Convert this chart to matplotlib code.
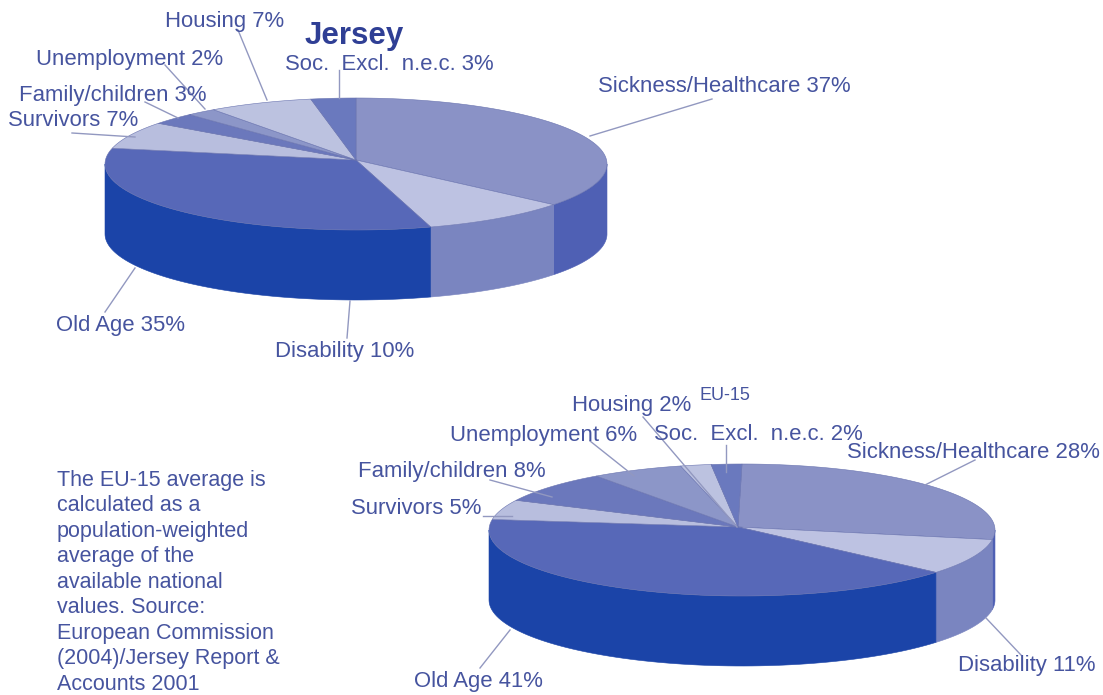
"""
Jersey vs EU-15 social spending, two fake-3D pies
"""
import numpy as np
import matplotlib
matplotlib.use("Agg")
import matplotlib.pyplot as plt
from matplotlib.patches import Polygon

plt.rcParams["font.family"] = ["Liberation Sans", "DejaVu Sans"]

categories = ["Sickness/Healthcare", "Disability", "Old Age", "Survivors",
              "Family/children", "Unemployment", "Housing", "Soc.  Excl.  n.e.c."]
jersey_values = [37, 10, 35, 7, 3, 2, 7, 3]
eu15_values = [28, 11, 41, 5, 8, 6, 2, 2]
# slice sizes as drawn in the picture, the EU-15 pie does not quite follow its labels
eu15_drawn = [28, 9, 42.5, 5, 8, 6, 2, 2]

note_text = ("The EU-15 average is\ncalculated as a\npopulation-weighted\naverage of the\n"
             "available national\nvalues. Source:\nEuropean Commission\n(2004)/Jersey Report &\n"
             "Accounts 2001")

TOP_COLORS = ["#8a92c6", "#bdc2e2", "#5768b8", "#b8bede", "#6b78bc", "#8c96c8", "#bcc2e0", "#6a79be"]
WALL_COLORS = ["#4f60b4", "#7a85c0", "#1b44a8", "#1b44a8", "#1b44a8", "#1b44a8", "#1b44a8", "#1b44a8"]
TEXT_COLOR = "#46549f"
LINE_COLOR = "#9298c0"

# label anchor (x, y, ha) and leader line per slice, pixels
JERSEY_LABELS = [(598, 86, "left"), (275, 351, "left"), (56, 325, "left"), (8, 121, "left"),
                 (19, 95, "left"), (36, 59, "left"), (165, 21, "left"), (285, 65, "left")]
JERSEY_LEADERS = [((590, 136), (712, 99)), ((347, 338), (350, 301)), ((105, 312), (135, 268)),
                  ((72, 133), (135, 137)), ((145, 102), (178, 118)), ((165, 65), (205, 109)),
                  ((238, 30), (267, 100)), ((339, 70), (339, 98))]
EU_LABELS = [(847, 452, "left"), (958, 665, "left"), (414, 681, "left"), (351, 509, "left"),
             (358, 472, "left"), (450, 435, "left"), (572, 406, "left"), (654, 435, "left")]
EU_LEADERS = [((975, 460), (925, 485)), ((986, 618), (1021, 655)), ((480, 668), (510, 630)),
              ((483, 516), (512, 516)), ((490, 480), (552, 497)), ((590, 441), (634, 476)),
              ((643, 417), (737, 527)), ((726, 445), (726, 472))]


def draw_pie(ax, values, drawn, apex, center, rx, ry, depth, labels, leaders):
    edges = np.cumsum([0] + list(drawn)) / sum(drawn) * 2 * np.pi  # clockwise from 12 o'clock

    # walls first, only the part facing front
    for i in range(len(values)):
        lo2, hi2 = max(edges[i], np.pi / 2), min(edges[i + 1], 3 * np.pi / 2)
        if hi2 <= lo2:
            continue
        t = np.linspace(lo2, hi2, 80)
        x = center[0] + rx * np.sin(t)
        y = center[1] - ry * np.cos(t)
        pts = np.vstack([np.column_stack([x, y]), np.column_stack([x, y + depth])[::-1]])
        ax.add_patch(Polygon(pts, closed=True, fc=WALL_COLORS[i], ec=WALL_COLORS[i], lw=0.4, zorder=2))

    for i in range(len(values)):
        t = np.linspace(edges[i], edges[i + 1], 80)
        x = center[0] + rx * np.sin(t)
        y = center[1] - ry * np.cos(t)
        pts = np.vstack([[apex], np.column_stack([x, y])])
        ax.add_patch(Polygon(pts, closed=True, fc=TOP_COLORS[i], ec="#6a74b0", lw=0.4, zorder=3))

    for (a, b) in leaders:
        ax.plot([a[0], b[0]], [a[1], b[1]], color=LINE_COLOR, lw=1.0, zorder=4)

    for cat, val, (lx, ly, ha) in zip(categories, values, labels):
        ax.text(lx, ly, f"{cat} {val}%", fontsize=15.9, color=TEXT_COLOR, ha=ha, va="center", zorder=5)


fig = plt.figure(figsize=(11.03, 6.95), dpi=100)
ax = fig.add_axes([0, 0, 1, 1])
ax.set_xlim(0, 1103)
ax.set_ylim(695, 0)
ax.axis("off")

draw_pie(ax, jersey_values, jersey_values, (356, 160), (356, 164), 251, 66, 70, JERSEY_LABELS, JERSEY_LEADERS)
draw_pie(ax, eu15_values, eu15_drawn, (738, 527), (742, 530), 253, 66, 70, EU_LABELS, EU_LEADERS)

ax.text(354, 36, "Jersey", fontsize=22.5, fontweight="bold", color="#2f3f95", ha="center", va="center", zorder=5)
ax.text(725, 396, "EU-15", fontsize=13, color=TEXT_COLOR, ha="center", va="center", zorder=5)
ax.text(57, 470, note_text, fontsize=15.5, color=TEXT_COLOR, ha="left", va="top", linespacing=1.28, zorder=5)

fig.savefig("out.png", dpi=100)
